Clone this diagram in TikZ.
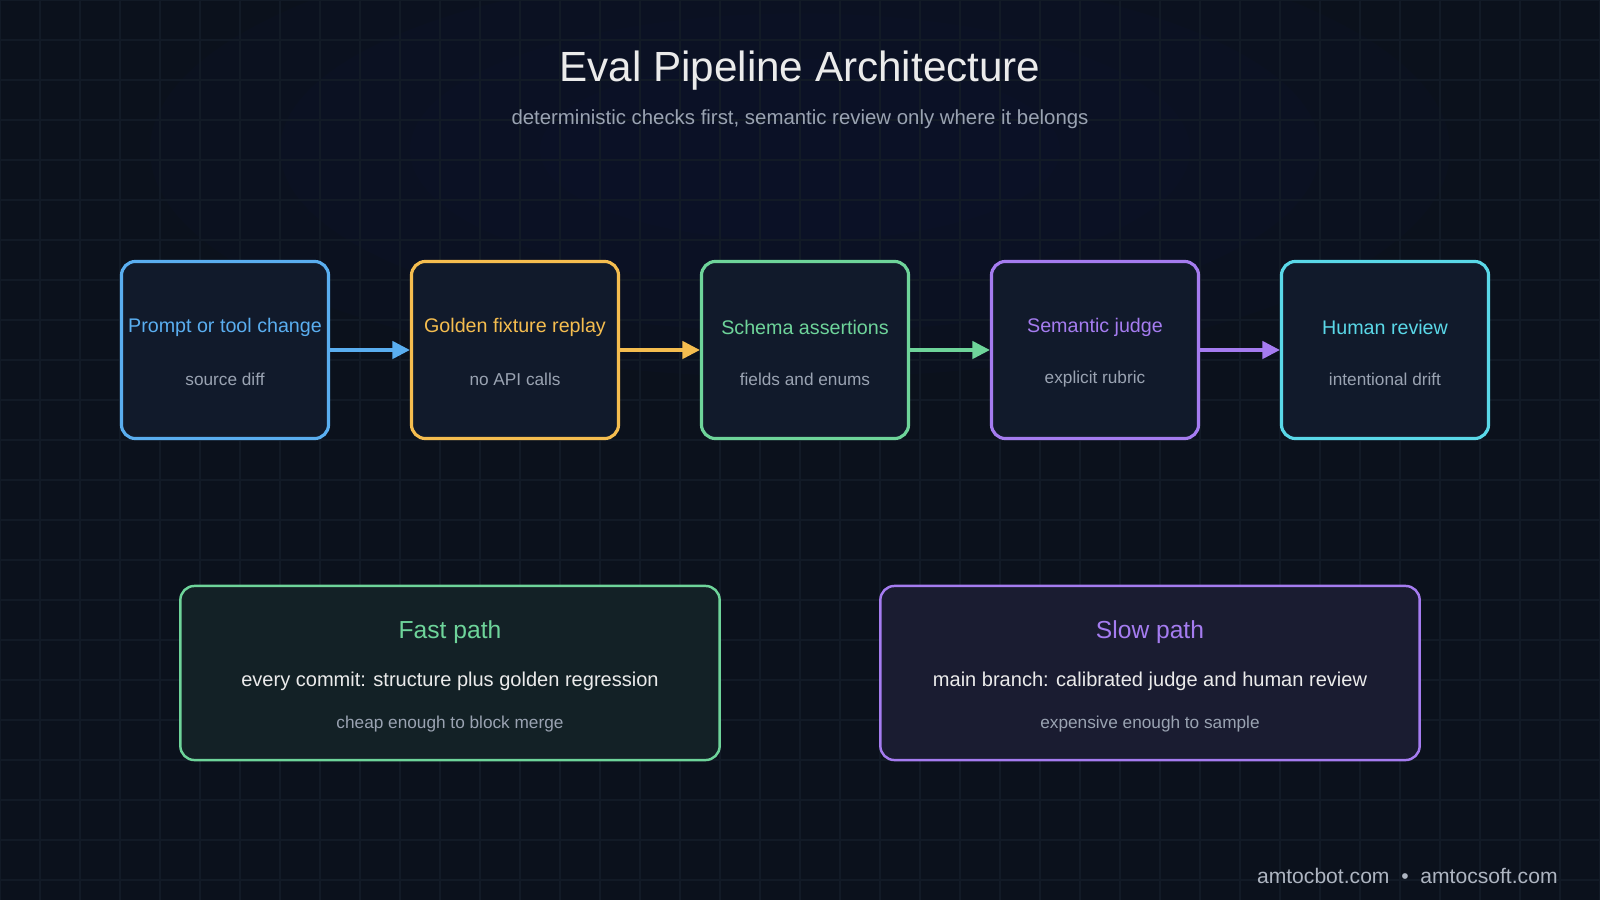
\documentclass[tikz,border=0pt]{standalone}
\usepackage{fontspec}
\setmainfont{Liberation Sans}
\usetikzlibrary{arrows.meta,positioning}
\definecolor{bgc}{HTML}{0B111C}
\definecolor{gridc}{HTML}{121A26}
\definecolor{boxc}{HTML}{111A2B}
\definecolor{cblue}{HTML}{5AAEF0}
\definecolor{cyel}{HTML}{F5BD4F}
\definecolor{cgreen}{HTML}{6ED49A}
\definecolor{cpurp}{HTML}{A57CF0}
\definecolor{ccyan}{HTML}{5AD8E8}
\definecolor{csub}{HTML}{9AA3B2}
\begin{document}
\begin{tikzpicture}
[x=0.01cm, y=-0.01cm, font=\fontsize{5.6pt}{7pt}\selectfont,
stage/.style={rectangle, rounded corners=4pt, draw, line width=0.9pt, fill=boxc, minimum width=2.07cm, minimum height=1.77cm},
path/.style={rectangle, rounded corners=4pt, draw, line width=0.7pt, minimum width=5.39cm, minimum height=1.74cm},
flow/.style={-{Triangle[length=5pt,width=5pt]}, line width=0.9pt}]

% background and grid
\useasboundingbox (0,0) rectangle (1600,900);
\begin{scope}
\clip (0,0) rectangle (1600,900);
\fill[bgc] (0,0) rectangle (1600,900);
\foreach \r/\o in {650/0.12,520/0.12,390/0.12,260/0.12}
  \fill[gridc!70!blue!40!bgc, opacity=\o] (800,150) ellipse (\r*1.0 and \r*0.35);
\foreach \gx in {0,40,...,1600} \draw[gridc, line width=0.3pt] (\gx,0) -- (\gx,900);
\foreach \gy in {0,40,...,900} \draw[gridc, line width=0.3pt] (0,\gy) -- (1600,\gy);
\end{scope}

% heading
\node[text=white!92!black, font=\fontsize{12pt}{14pt}\selectfont] (title) at (800,71) {Eval Pipeline Architecture};
\node[text=csub, font=\fontsize{5.8pt}{7pt}\selectfont] (subtitle) at (800,119) {deterministic checks first, semantic review only where it belongs};

% stages
\foreach \n/\x/\c/\t/\s in {s1/225/cblue/Prompt or tool change/source diff,
  s2/515/cyel/Golden fixture replay/no API calls,
  s3/805/cgreen/Schema assertions/fields and enums,
  s4/1095/cpurp/Semantic judge/explicit rubric,
  s5/1385/ccyan/Human review/intentional drift} {
  \node[stage, draw=\c] (\n) at (\x,350) {};
  \node[text=\c] (\n t) at (\x,327) {\t};
  \node[text=csub, font=\fontsize{4.9pt}{6pt}\selectfont] (\n s) at (\x,379) {\s};
}

\draw[flow, cblue] (s1) -- (s2);
\draw[flow, cyel] (s2) -- (s3);
\draw[flow, cgreen] (s3) -- (s4);
\draw[flow, cpurp] (s4) -- (s5);

% paths
\node[path, draw=cgreen, fill=cgreen!8!bgc] (fast) at (450,673) {};
\node[text=cgreen, font=\fontsize{7pt}{8pt}\selectfont] (fastt) at (450,632) {Fast path};
\node[text=white!92!black, font=\fontsize{5.7pt}{7pt}\selectfont] (fastm) at (450,681) {every commit: structure plus golden regression};
\node[text=csub, font=\fontsize{4.9pt}{6pt}\selectfont] (fasts) at (450,724) {cheap enough to block merge};

\node[path, draw=cpurp, fill=cpurp!10!bgc] (slow) at (1150,673) {};
\node[text=cpurp, font=\fontsize{7pt}{8pt}\selectfont] (slowt) at (1150,632) {Slow path};
\node[text=white!92!black, font=\fontsize{5.7pt}{7pt}\selectfont] (slowm) at (1150,681) {main branch: calibrated judge and human review};
\node[text=csub, font=\fontsize{4.9pt}{6pt}\selectfont] (slows) at (1150,724) {expensive enough to sample};

% footer
\node[anchor=east, text=csub!80!white, font=\fontsize{6pt}{7pt}\selectfont] (foot) at (1570,876) {amtocbot.com \ \textbullet\ \ amtocsoft.com};
\end{tikzpicture}
\end{document}
